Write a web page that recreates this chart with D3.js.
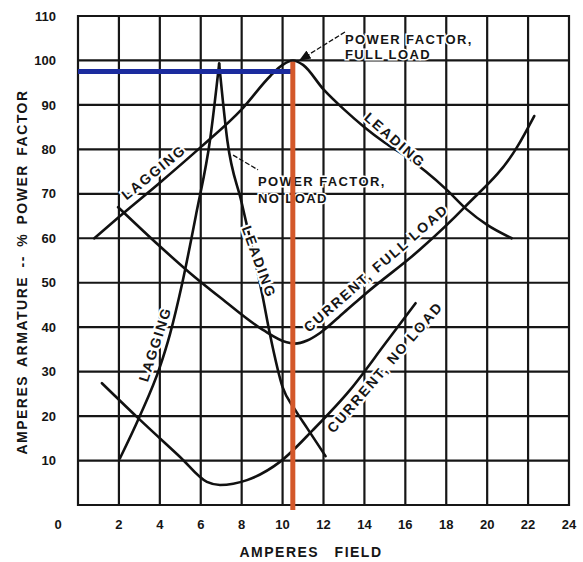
<!DOCTYPE html>
<html>
<head>
<meta charset="utf-8">
<script src="https://cdn.jsdelivr.net/npm/d3@7/dist/d3.min.js"></script>
<style>
body { margin: 0; background: #fff; }
text { font-family: "Liberation Sans", Arial, sans-serif; font-weight: bold; fill: #151515; }
</style>
</head>
<body>
<div class="vcurve-chart"></div>
<script>
// axis ticks
const xTicks = [0, 2, 4, 6, 8, 10, 12, 14, 16, 18, 20, 22, 24];
const yGrid = [0, 10, 20, 30, 40, 50, 60, 70, 80, 90, 100, 110];
const yLabels = [10, 20, 30, 40, 50, 60, 70, 80, 90, 100, 110];

// power factor, full load
const pfFullX = [0.8, 2, 4, 6, 8, 9.4, 10, 10.5, 11, 12, 13, 14, 15, 16, 17, 18, 19, 20, 21.2];
const pfFullY = [60, 64.8, 72.5, 80.5, 89, 96.5, 99, 100, 99, 93.5, 89, 85, 81.5, 78.5, 75, 71, 66.5, 63, 60];

// power factor, no load (lagging branch, leading branch)
const pfNoLagX = [2.05, 3, 4, 4.5, 5.1, 5.8, 6.45, 6.9];
const pfNoLagY = [10.5, 19.8, 31, 38.5, 50, 66, 82, 99.3];
const pfNoLeadX = [6.9, 7.3, 8, 9, 9.4, 10, 10.6, 11.2, 12.1];
const pfNoLeadY = [99.3, 82, 68, 47.5, 38, 26.5, 21.5, 17.3, 11];

// armature current, full load
const curFullX = [1.96, 4, 5.47, 7, 9.04, 10.2, 10.6, 11.2, 11.83, 13, 14.1, 16.7, 18.9, 21.46, 22.3];
const curFullY = [67, 58.2, 52.2, 46.5, 39.4, 36.6, 36.3, 37, 38.7, 43.3, 47.7, 57.4, 67, 80.5, 87.5];

// armature current, no load
const curNoX = [1.17, 2.93, 4.99, 6.3, 6.94, 8.26, 9.87, 11.49, 13.3, 15, 16.5];
const curNoY = [27.4, 19.6, 10.8, 5.2, 4.5, 5.6, 9.7, 16.9, 25.9, 36.2, 45.4];

// marked operating point
const opField = 10.5;
const opValue = 97.5;

const width = 583;
const height = 562;

const svg = d3.select('.vcurve-chart')
    .append('svg')
    .attr('width', width)
    .attr('height', height);

const x = d3.scaleLinear().domain([0, 24]).range([78, 569]);
const y = d3.scaleLinear().domain([0, 110]).range([505, 16]);

const pts = (xs, ys) => xs.map((v, i) => [v, ys[i]]);

// grid
svg.selectAll('.vgrid')
    .data(xTicks)
    .enter()
    .append('line')
    .attr('class', 'vgrid')
    .attr('x1', d => x(d)).attr('x2', d => x(d))
    .attr('y1', y(0) + 1).attr('y2', y(110) - 1)
    .attr('stroke', '#161616')
    .attr('stroke-width', 2.2);

svg.selectAll('.hgrid')
    .data(yGrid)
    .enter()
    .append('line')
    .attr('class', 'hgrid')
    .attr('x1', x(0) - 1).attr('x2', x(24) + 1)
    .attr('y1', d => y(d)).attr('y2', d => y(d))
    .attr('stroke', '#161616')
    .attr('stroke-width', 2.2);

// tick labels
svg.selectAll('.xlab')
    .data(xTicks)
    .enter()
    .append('text')
    .attr('class', 'xlab')
    .attr('x', d => d === 0 ? x(d) - 20 : x(d))
    .attr('y', 529)
    .attr('text-anchor', 'middle')
    .attr('font-size', 13)
    .text(d => d);

svg.selectAll('.ylab')
    .data(yLabels)
    .enter()
    .append('text')
    .attr('class', 'ylab')
    .attr('x', 56)
    .attr('y', d => y(d))
    .attr('dy', '0.36em')
    .attr('text-anchor', 'end')
    .attr('font-size', 13)
    .text(d => d);

// axis titles
svg.append('text')
    .attr('x', 311)
    .attr('y', 557)
    .attr('text-anchor', 'middle')
    .attr('font-size', 14)
    .attr('letter-spacing', 1.5)
    .attr('word-spacing', 10)
    .text('AMPERES FIELD');

svg.append('text')
    .attr('transform', 'translate(27,272) rotate(-90)')
    .attr('text-anchor', 'middle')
    .attr('font-size', 14)
    .attr('letter-spacing', 1.5)
    .attr('word-spacing', 3)
    .text('AMPERES ARMATURE -- % POWER FACTOR');

// curves
const smooth = d3.line().x(d => x(d[0])).y(d => y(d[1])).curve(d3.curveMonotoneX);

const curves = [
    pts(pfFullX, pfFullY),
    pts(pfNoLagX, pfNoLagY),
    pts(pfNoLeadX, pfNoLeadY),
    pts(curFullX, curFullY),
    pts(curNoX, curNoY)
];

svg.selectAll('.curve')
    .data(curves)
    .enter()
    .append('path')
    .attr('class', 'curve')
    .attr('d', smooth)
    .attr('fill', 'none')
    .attr('stroke', '#111')
    .attr('stroke-width', 2.6)
    .attr('stroke-linejoin', 'round')
    .attr('stroke-linecap', 'round');

// curve labels (position in data units, rotation in degrees)
const curveLabels = [
    { t: 'LAGGING', cx: 3.7, cy: 74.9, a: -39 },
    { t: 'LEADING', cx: 15.5, cy: 82.1, a: 41 },
    { t: 'LAGGING', cx: 3.76, cy: 36.2, a: -72 },
    { t: 'LEADING', cx: 8.85, cy: 54.7, a: 70 },
    { t: 'CURRENT, FULL LOAD', cx: 14.56, cy: 53.3, a: -41 },
    { t: 'CURRENT, NO LOAD', cx: 15.0, cy: 31.0, a: -49 }
];

svg.selectAll('.clab')
    .data(curveLabels)
    .enter()
    .append('text')
    .attr('class', 'clab')
    .attr('transform', d => `translate(${x(d.cx)},${y(d.cy)}) rotate(${d.a})`)
    .attr('text-anchor', 'middle')
    .attr('dy', '0.36em')
    .attr('font-size', 14)
    .attr('letter-spacing', 1.8)
    .attr('stroke', '#fff')
    .attr('stroke-width', 4)
    .attr('paint-order', 'stroke')
    .text(d => d.t);

// annotations with leaders
svg.append('defs').append('marker')
    .attr('id', 'arr')
    .attr('viewBox', '0 0 10 10')
    .attr('refX', 9).attr('refY', 5)
    .attr('markerWidth', 9).attr('markerHeight', 9)
    .attr('orient', 'auto')
    .append('path')
    .attr('d', 'M0,1 L10,5 L0,9 Z')
    .attr('fill', '#111');

svg.append('line')
    .attr('x1', x(13.05)).attr('y1', y(106.4))
    .attr('x2', x(10.85)).attr('y2', y(100.1))
    .attr('stroke', '#111')
    .attr('stroke-width', 1.3)
    .attr('stroke-dasharray', '5,2')
    .attr('marker-end', 'url(#arr)');

svg.append('line')
    .attr('x1', x(7.58)).attr('y1', y(78.7))
    .attr('x2', x(8.8)).attr('y2', y(75.4))
    .attr('stroke', '#111')
    .attr('stroke-width', 1.3)
    .attr('stroke-dasharray', '5,2');

const notes = [
    { t: 'POWER FACTOR,', nx: 13.05, ny: 103.8 },
    { t: 'FULL LOAD', nx: 13.05, ny: 100.4 },
    { t: 'POWER FACTOR,', nx: 8.8, ny: 71.8 },
    { t: 'NO LOAD', nx: 8.8, ny: 68 }
];

svg.selectAll('.note')
    .data(notes)
    .enter()
    .append('text')
    .attr('class', 'note')
    .attr('x', d => x(d.nx))
    .attr('y', d => y(d.ny))
    .attr('font-size', 13)
    .attr('letter-spacing', 1.4)
    .attr('stroke', '#fff')
    .attr('stroke-width', 3)
    .attr('paint-order', 'stroke')
    .text(d => d.t);

// operating point markers
svg.append('line')
    .attr('x1', x(0)).attr('x2', x(opField))
    .attr('y1', y(opValue)).attr('y2', y(opValue))
    .attr('stroke', '#1b2b9e')
    .attr('stroke-width', 5);

svg.append('line')
    .attr('x1', x(opField)).attr('x2', x(opField))
    .attr('y1', y(99.7)).attr('y2', y(-1.1))
    .attr('stroke', '#d4582a')
    .attr('stroke-width', 5);
</script>
</body>
</html>
